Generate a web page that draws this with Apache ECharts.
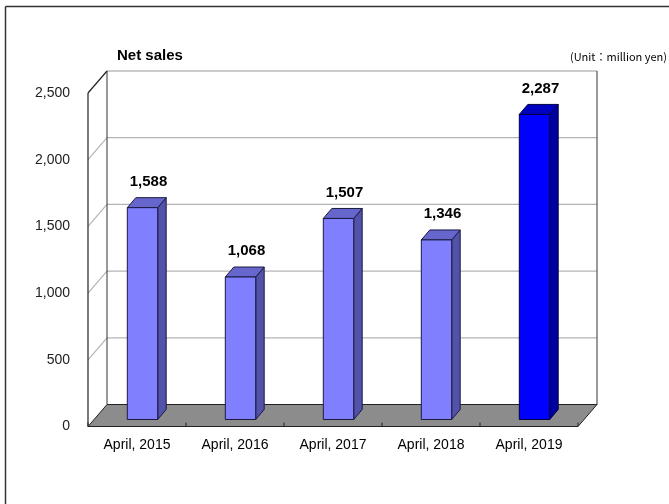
<!DOCTYPE html>
<html>
<head>
<meta charset="utf-8">
<script src="https://cdn.jsdelivr.net/npm/echarts@6/dist/echarts.min.js"></script>
<style>
html,body{margin:0;padding:0;background:#fff;}
#chart{width:669px;height:504px;}
</style>
</head>
<body>
<div id="chart"></div>
<script>
// ---- data ----
const categories = ['April, 2015', 'April, 2016', 'April, 2017', 'April, 2018', 'April, 2019'];
const netSales = [1588, 1068, 1507, 1346, 2287];
const yTicks = [0, 500, 1000, 1500, 2000, 2500];
const titleText = 'Net sales';
const unitText = '(Unit：million yen)';

// ---- style ----
const WALL_DX = 19, WALL_DY = -22;      // depth offset of back wall
const BAR_DX = 5.5, BAR_DY = -7;        // bar front face offset
const DEP_DX = 8.5, DEP_DY = -10;       // bar depth
const BAR_W_RATIO = 0.31;
const FONT = '"Liberation Sans", Arial, sans-serif';

const chart = echarts.init(document.getElementById('chart'), null, {renderer: 'canvas'});

function frameRender(params, api) {
  const cs = params.coordSys;
  const x = cs.x, top = cs.y, w = cs.width, bot = cs.y + cs.height;
  const ch = [];
  ch.push({type: 'rect', shape: {x: x + WALL_DX, y: top + WALL_DY, width: w, height: cs.height},
    style: {fill: '#fff', stroke: null}});
  yTicks.forEach(v => {
    if (v === 0) return;
    const yv = api.coord([0, v])[1];
    const isTop = v === yTicks[yTicks.length - 1];
    ch.push({type: 'line', shape: {x1: x + WALL_DX, y1: yv + WALL_DY, x2: x + w + WALL_DX, y2: yv + WALL_DY},
      style: {stroke: isTop ? '#9a9a9a' : '#b4b4b4', lineWidth: 1.2}});
    ch.push({type: 'line', shape: {x1: x, y1: yv, x2: x + WALL_DX, y2: yv + WALL_DY},
      style: {stroke: isTop ? '#222' : '#b4b4b4', lineWidth: 1.2}});
  });
  ch.push({type: 'line', shape: {x1: x + WALL_DX, y1: top + WALL_DY, x2: x + WALL_DX, y2: bot + WALL_DY},
    style: {stroke: '#333', lineWidth: 1}});
  ch.push({type: 'line', shape: {x1: x + w + WALL_DX, y1: top + WALL_DY, x2: x + w + WALL_DX, y2: bot + WALL_DY},
    style: {stroke: '#555', lineWidth: 1.2}});
  ch.push({type: 'line', shape: {x1: x, y1: top, x2: x, y2: bot},
    style: {stroke: '#222', lineWidth: 1.2}});
  ch.push({type: 'polygon', shape: {points: [[x, bot], [x + WALL_DX, bot + WALL_DY], [x + w + WALL_DX, bot + WALL_DY], [x + w, bot]]},
    style: {fill: '#8c8c8c', stroke: '#222', lineWidth: 1}});
  const band = api.size([1, 0])[0];
  for (let i = 0; i <= categories.length; i++) {
    const tx = x + i * band;
    ch.push({type: 'line', shape: {x1: tx, y1: bot, x2: tx, y2: bot - 4},
      style: {stroke: '#222', lineWidth: 1}});
  }
  return {type: 'group', children: ch};
}

function barRender(params, api) {
  const i = api.value(0), v = api.value(1);
  const base = api.coord([i, 0]);
  const topP = api.coord([i, v]);
  const bw = api.size([1, 0])[0] * BAR_W_RATIO;
  const cx = base[0] + BAR_DX;
  const x0 = cx - bw / 2, x1 = cx + bw / 2;
  const yT = topP[1] + BAR_DY, yB = base[1] + BAR_DY;
  const last = i === categories.length - 1;
  const cFront = last ? '#0000ff' : '#8080ff';
  const cSide = last ? '#0000a0' : '#5252a8';
  const cTop = last ? '#0000c0' : '#6666cc';
  const stroke = last ? '#000040' : '#1a1a40';
  return {type: 'group', children: [
    {type: 'polygon', shape: {points: [[x1, yT], [x1 + DEP_DX, yT + DEP_DY], [x1 + DEP_DX, yB + DEP_DY], [x1, yB]]},
      style: {fill: cSide, stroke: stroke, lineWidth: 1}},
    {type: 'polygon', shape: {points: [[x0, yT], [x0 + DEP_DX, yT + DEP_DY], [x1 + DEP_DX, yT + DEP_DY], [x1, yT]]},
      style: {fill: cTop, stroke: stroke, lineWidth: 1}},
    {type: 'rect', shape: {x: x0, y: yT, width: bw, height: yB - yT},
      style: {fill: cFront, stroke: stroke, lineWidth: 1}},
    {type: 'text', x: cx + 6, y: yT - 26,
      style: {text: echarts.format.addCommas(v), fill: '#000', font: 'bold 15px ' + FONT,
        align: 'center', verticalAlign: 'middle'}}
  ]};
}

chart.setOption({
  animation: false,
  backgroundColor: '#fff',
  grid: {left: 88, right: 91, top: 93, bottom: 77.5},
  xAxis: {
    type: 'category', data: categories, boundaryGap: true,
    axisLine: {show: false}, axisTick: {show: false},
    axisLabel: {color: '#000', fontSize: 14, fontFamily: FONT, margin: 12}
  },
  yAxis: {
    type: 'value', min: yTicks[0], max: yTicks[yTicks.length - 1], interval: 500,
    axisLine: {show: false}, axisTick: {show: false}, splitLine: {show: false},
    axisLabel: {color: '#222', fontSize: 14, fontFamily: FONT, margin: 18, padding: [5, 0, 0, 0],
      formatter: v => echarts.format.addCommas(v)}
  },
  graphic: [
    {type: 'line', shape: {x1: 5.5, y1: 6.5, x2: 669, y2: 6.5}, style: {stroke: '#333', lineWidth: 1.5}},
    {type: 'line', shape: {x1: 5.5, y1: 6.5, x2: 5.5, y2: 504}, style: {stroke: '#333', lineWidth: 1.5}},
    {type: 'text', left: 117, top: 48, style: {text: titleText, font: 'bold 15px ' + FONT, fill: '#000'}},
    {type: 'text', right: 2, top: 51, style: {text: unitText, font: '11px "Noto Sans CJK JP", ' + FONT, fill: '#000'}}
  ],
  series: [
    {type: 'custom', z: 1, clip: false, renderItem: frameRender, data: [[0, 0]], silent: true},
    {type: 'custom', z: 3, clip: false, renderItem: barRender,
      data: netSales.map((v, i) => [i, v]), silent: true}
  ]
});
</script>
</body>
</html>
